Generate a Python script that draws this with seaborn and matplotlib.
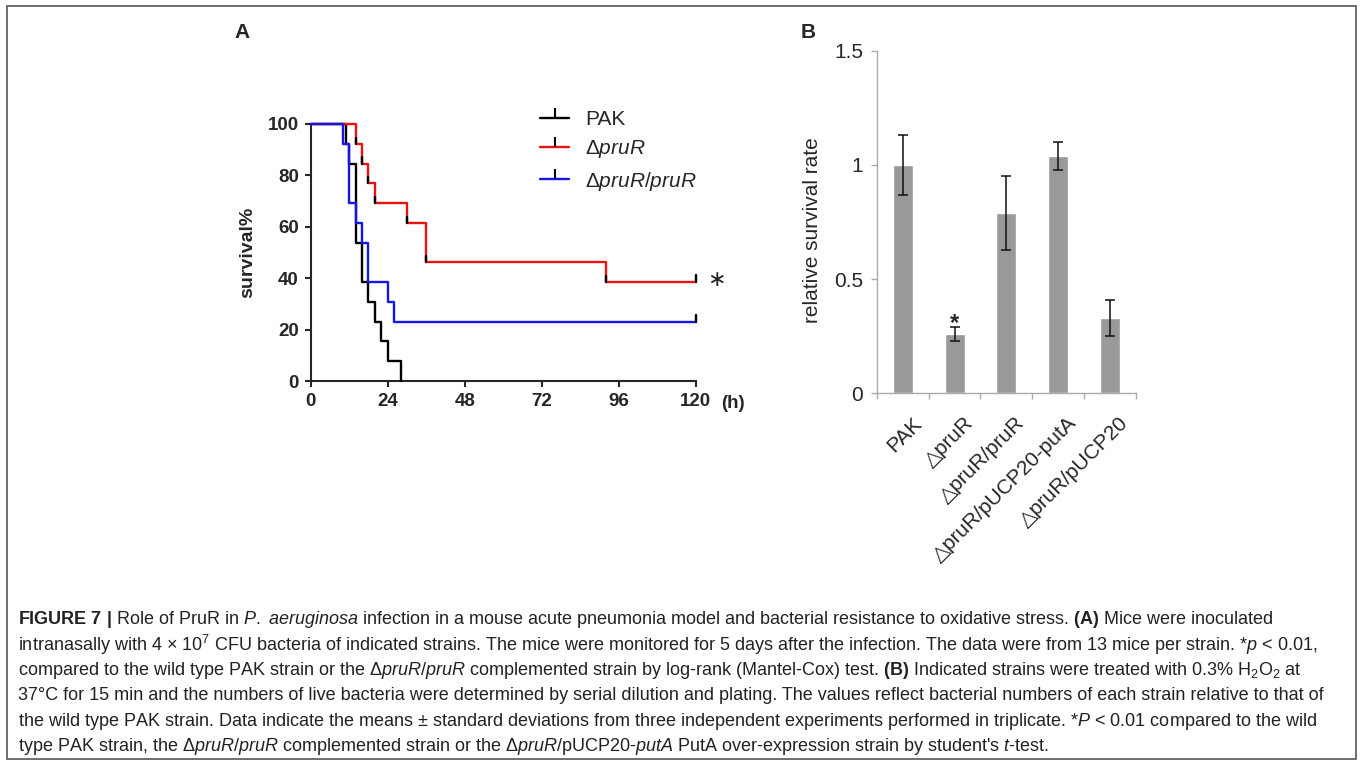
import matplotlib
matplotlib.use('Agg')
import matplotlib.pyplot as plt
import matplotlib.transforms as mtransforms
import seaborn as sns
from matplotlib.lines import Line2D
from matplotlib.patches import Rectangle
from matplotlib.ticker import FixedLocator

# ---- data: panel A (Kaplan-Meier, 13 mice per strain) ----
pak_t = [0, 11, 12, 14, 16, 18, 20, 22, 24, 28]
pak_s = [100, 92.3, 84.6, 53.8, 38.5, 30.8, 23.1, 15.4, 7.7, 0]
red_t = [0, 14, 16, 18, 20, 30, 36, 92, 120]
red_s = [100, 92.3, 84.6, 76.9, 69.2, 61.5, 46.2, 38.5, 38.5]
blue_t = [0, 10, 12, 14, 16, 18, 24, 26, 120]
blue_s = [100, 92.3, 69.2, 61.5, 53.8, 38.5, 30.8, 23.1, 23.1]
a_xticks = [0, 24, 48, 72, 96, 120]
a_yticks = [0, 20, 40, 60, 80, 100]
legend_labels = ['PAK', 'Δ$\\mathit{pruR}$', 'Δ$\\mathit{pruR/pruR}$']

# ---- data: panel B (relative survival after H2O2) ----
strains = ['PAK', '△pruR', '△pruR/pruR', '△pruR/pUCP20-putA', '△pruR/pUCP20']
rel_survival = [1.00, 0.26, 0.79, 1.04, 0.33]
rel_sd = [0.13, 0.03, 0.16, 0.06, 0.08]
b_yticks = [0, 0.5, 1, 1.5]
b_yticklabels = ['0', '0.5', '1', '1.5']

caption = [
    r'$\mathbf{FIGURE\ 7\ |}$ Role of PruR in $\mathit{P.}$ $\mathit{aeruginosa}$ infection in a mouse acute pneumonia model and bacterial resistance to oxidative stress. $\mathbf{(A)}$ Mice were inoculated',
    r'intranasally with 4 × 10$^{7}$ CFU bacteria of indicated strains. The mice were monitored for 5 days after the infection. The data were from 13 mice per strain. *$\mathit{p}$ < 0.01,',
    r'compared to the wild type PAK strain or the Δ$\mathit{pruR/pruR}$ complemented strain by log-rank (Mantel-Cox) test. $\mathbf{(B)}$ Indicated strains were treated with 0.3% H$_2$O$_2$ at',
    r'37°C for 15 min and the numbers of live bacteria were determined by serial dilution and plating. The values reflect bacterial numbers of each strain relative to that of',
    r'the wild type PAK strain. Data indicate the means ± standard deviations from three independent experiments performed in triplicate. *$\mathit{P}$ < 0.01 compared to the wild',
    r"type PAK strain, the Δ$\mathit{pruR/pruR}$ complemented strain or the Δ$\mathit{pruR}$/pUCP20-$\mathit{putA}$ PutA over-expression strain by student's $\mathit{t}$-test.",
]

sns.set_style('ticks')
plt.rcParams['font.family'] = ['Liberation Sans', 'DejaVu Sans']
plt.rcParams['mathtext.fontset'] = 'custom'
plt.rcParams['mathtext.rm'] = 'Liberation Sans'
plt.rcParams['mathtext.it'] = 'Liberation Sans:italic'
plt.rcParams['mathtext.bf'] = 'Liberation Sans:bold'

W, H = 1360, 765
fig = plt.figure(figsize=(W / 100, H / 100), dpi=100)


def fx(px):
    return px / W


def fy(py):
    return 1 - py / H


# frame round the whole figure
fig.patches.append(Rectangle((fx(7), fy(759)), fx(1356) - fx(7), fy(6) - fy(759),
                             transform=fig.transFigure, fill=False, ec='#555555', lw=1.2))

# ---------------- panel A ----------------
ax_a = fig.add_axes([fx(310.7), fy(381), (695.7 - 310.7) / W, (381 - 124) / H])
curves = [(pak_t, pak_s, 'black'), (red_t, red_s, '#ee1111'), (blue_t, blue_s, '#1515e6')]
for t, s, c in curves:
    sns.lineplot(x=t, y=s, drawstyle='steps-post', color=c, lw=1.7, estimator=None,
                 ax=ax_a, clip_on=False, zorder=3)

# black ticks at the foot of each red drop, and censor marks at 120 h
for i in range(1, len(red_t) - 1):
    ax_a.plot([red_t[i], red_t[i]], [red_s[i], red_s[i] + 2.4], color='black', lw=1.7, zorder=4)
for s in (red_s[-1], blue_s[-1]):
    ax_a.plot([120, 120], [s, s + 2.6], color='black', lw=1.7, zorder=4, clip_on=False)

ax_a.set_xlim(0, 120)
ax_a.set_ylim(0, 100)
ax_a.set_xticks(a_xticks)
ax_a.set_yticks(a_yticks)
ax_a.set_xlabel('')
ax_a.set_ylabel('survival%', fontsize=14, fontweight='bold', labelpad=8)
sns.despine(ax=ax_a)
for sp in ('left', 'bottom'):
    ax_a.spines[sp].set_linewidth(1.5)
ax_a.tick_params(direction='out', length=4.5, width=1.5, labelsize=13.5, pad=4)
for lab in ax_a.get_xticklabels() + ax_a.get_yticklabels():
    lab.set_fontweight('bold')
fig.text(fx(733), fy(403), '(h)', fontsize=13.5, fontweight='bold', ha='center', va='center')
fig.text(fx(716), fy(280), '∗', fontsize=16, ha='center', va='center', family='DejaVu Sans')

handles = [Line2D([], [], color=c, lw=1.7, marker=2, markersize=7, mec='black', mew=1.5)
           for _, _, c in curves]
ax_a.legend(handles, legend_labels, loc='upper left', bbox_to_anchor=(fx(540), fy(110)),
            bbox_transform=fig.transFigure, frameon=False, fontsize=15, numpoints=1,
            handlelength=1.4, handletextpad=0.75, labelspacing=0.45, borderpad=0, borderaxespad=0)

fig.text(fx(242), fy(32), 'A', fontsize=15, fontweight='bold', ha='center', va='center')

# ---------------- panel B ----------------
ax_b = fig.add_axes([fx(877), fy(393.5), (1135.7 - 877) / W, (393.5 - 50.7) / H])
sns.barplot(x=strains, y=rel_survival, color='#999999', saturation=1, width=0.39,
            errorbar=None, ax=ax_b, zorder=2)
ax_b.errorbar(range(len(strains)), rel_survival, yerr=rel_sd, fmt='none', ecolor='#111111',
              elinewidth=1.1, capsize=3.6, capthick=1.1, zorder=3)
ax_b.set_xlim(-0.5, len(strains) - 0.5)
ax_b.set_ylim(0, 1.5)
ax_b.set_yticks(b_yticks)
ax_b.set_yticklabels(b_yticklabels)
ax_b.set_ylabel('relative survival rate', fontsize=15)
ax_b.yaxis.set_label_coords(-0.213, 0.477)
ax_b.set_xlabel('')
sns.despine(ax=ax_b)
for sp in ('left', 'bottom'):
    ax_b.spines[sp].set_color('#aaaaaa')
    ax_b.spines[sp].set_linewidth(1.0)
ax_b.tick_params(axis='y', direction='out', length=4, width=1, color='#aaaaaa', labelsize=15, pad=6)
ax_b.tick_params(axis='x', which='major', length=0, labelbottom=False)
ax_b.xaxis.set_minor_locator(FixedLocator([i - 0.5 for i in range(len(strains) + 1)]))
ax_b.tick_params(axis='x', which='minor', direction='out', length=4, width=1, color='#aaaaaa')

# rotated category labels, anchored at their top-right corner just right of each bar
shift = mtransforms.ScaledTranslation(0.09, -0.20, fig.dpi_scale_trans)
for i, name in enumerate(strains):
    ax_b.text(i, 0, name, transform=ax_b.transData + shift, rotation=45, fontsize=15,
              ha='right', va='top', rotation_mode='anchor')

ax_b.text(1, 0.276, '*', fontsize=17, fontweight='bold', ha='center', va='baseline')

fig.text(fx(808), fy(32), 'B', fontsize=15, fontweight='bold', ha='center', va='center')

# ---------------- caption ----------------
for i, line in enumerate(caption):
    fig.text(fx(18), fy(620 + 25.3 * i), line, fontsize=13, color='#222222',
             ha='left', va='center')

fig.savefig('out.png', dpi=100, facecolor='white')
